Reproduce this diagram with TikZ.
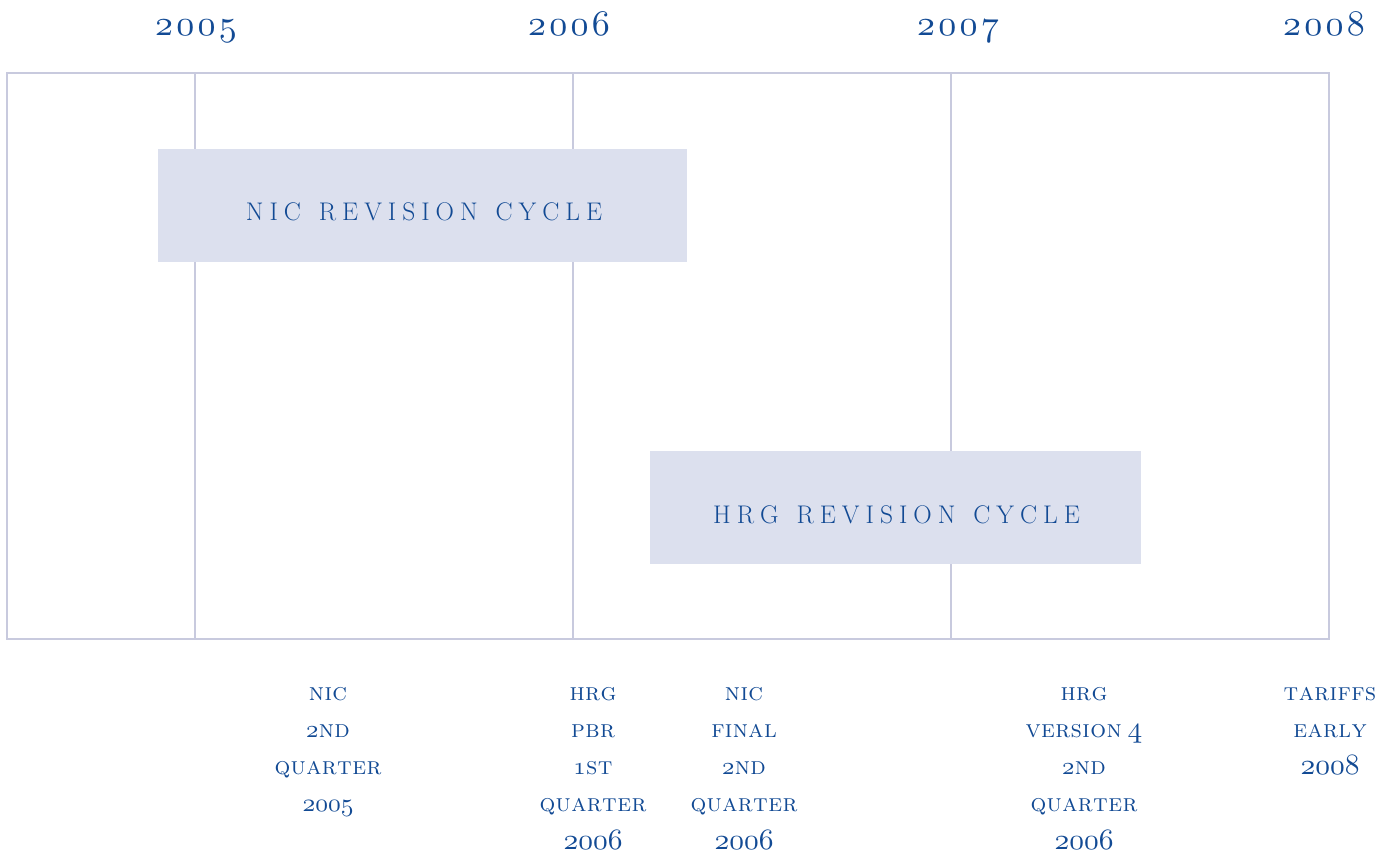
\documentclass[tikz,border=0pt]{standalone}
\usepackage{xcolor}
\definecolor{inkblue}{RGB}{18,74,148}
\definecolor{gridline}{RGB}{200,202,222}
\definecolor{bandfill}{RGB}{220,224,238}
% old-style figures from the math italic, scalable to any size
\DeclareFontFamily{OML}{osfm}{\skewchar\font=127}
\DeclareFontShape{OML}{osfm}{m}{it}{<-> cmmi10}{}
\newcommand\osf{\usefont{OML}{osfm}{m}{it}}
\makeatletter
% letter-spaced word: kern #1 between the characters of #2
\newcommand\spaced[2]{\def\sp@k{}\@tfor\sp@c:=#2\do{\sp@k\sp@c\def\sp@k{\kern#1}}}
\makeatother
\tikzset{
  frame/.style={draw=gridline, line width=1.3pt},
  year/.style={text=inkblue, inner sep=0pt, anchor=base,
    font=\fontsize{36}{40}\selectfont\osf},
  bandlabel/.style={text=inkblue, inner sep=0pt, anchor=base,
    font=\fontsize{25.5}{28}\selectfont},
  lbl/.style={text=inkblue, inner sep=0pt, anchor=base,
    font=\fontsize{24.8}{28}\selectfont\scshape},
}
\newcommand\bignum[1]{{\fontsize{29.5}{30}\selectfont\osf #1}}
\newcommand\midnum[1]{{\fontsize{25.5}{28}\selectfont\osf #1}}
\newcommand\tsc[1]{\spaced{0.4pt}{#1}}
\newcommand\ord[2]{{\osf #1}\kern0.4pt\spaced{0.4pt}{#2}}
\newcommand\wsp{\hspace{18pt}}
\begin{document}
\begin{tikzpicture}[x=1pt, y=-1pt]
\useasboundingbox (0,0) rectangle (1388,854);

% year headings
\node[year] (y2005) at (196,35) {\spaced{3.3pt}{2005}};
\node[year] (y2006) at (569,35) {\spaced{3.3pt}{2006}};
\node[year] (y2007) at (958,35) {\spaced{3.3pt}{2007}};
\node[year] (y2008) at (1324,35) {\spaced{3.3pt}{2008}};

% chart frame and year dividers
\draw[frame] (7,73) rectangle (1329,639);
\foreach \x in {195,573,951}
  \draw[frame] (\x,73) -- (\x,639);

% revision-cycle bands
\fill[bandfill] (158,149) rectangle (687,262);
\node[bandlabel] (nic) at (424,220)
  {\spaced{6pt}{NIC}\wsp\spaced{6pt}{REVISION}\wsp\spaced{6pt}{CYCLE}};
\fill[bandfill] (650,451) rectangle (1141,564);
\node[bandlabel] (hrg) at (896.5,523.5)
  {\spaced{6pt}{HRG}\wsp\spaced{6pt}{REVISION}\wsp\spaced{6pt}{CYCLE}};

% milestones below the chart
\foreach \t [count=\i] in {{\tsc{nic}},{\ord{2}{nd}},{\tsc{quarter}},{\midnum{2005}}}
  \node[lbl] (a\i) at (328,{700+(\i-1)*37.3}) {\t};
\foreach \t [count=\i] in {{\tsc{hrg}},{\tsc{pbr}},{\ord{1}{st}},{\tsc{quarter}},{\bignum{2006}}}
  \node[lbl] (b\i) at (593,{700+(\i-1)*37.3}) {\t};
\foreach \t [count=\i] in {{\tsc{nic}},{\tsc{final}},{\ord{2}{nd}},{\tsc{quarter}},{\bignum{2006}}}
  \node[lbl] (c\i) at (744,{700+(\i-1)*37.3}) {\t};
\foreach \t [count=\i] in {{\tsc{hrg}},{\tsc{version}\hspace{6pt}\bignum{4}},{\ord{2}{nd}},{\tsc{quarter}},{\bignum{2006}}}
  \node[lbl] (d\i) at (1084,{700+(\i-1)*37.3}) {\t};
\foreach \t [count=\i] in {{\tsc{tariffs}},{\tsc{early}},{\bignum{2008}}}
  \node[lbl] (e\i) at (1330,{700+(\i-1)*37.3}) {\t};
\end{tikzpicture}
\end{document}
